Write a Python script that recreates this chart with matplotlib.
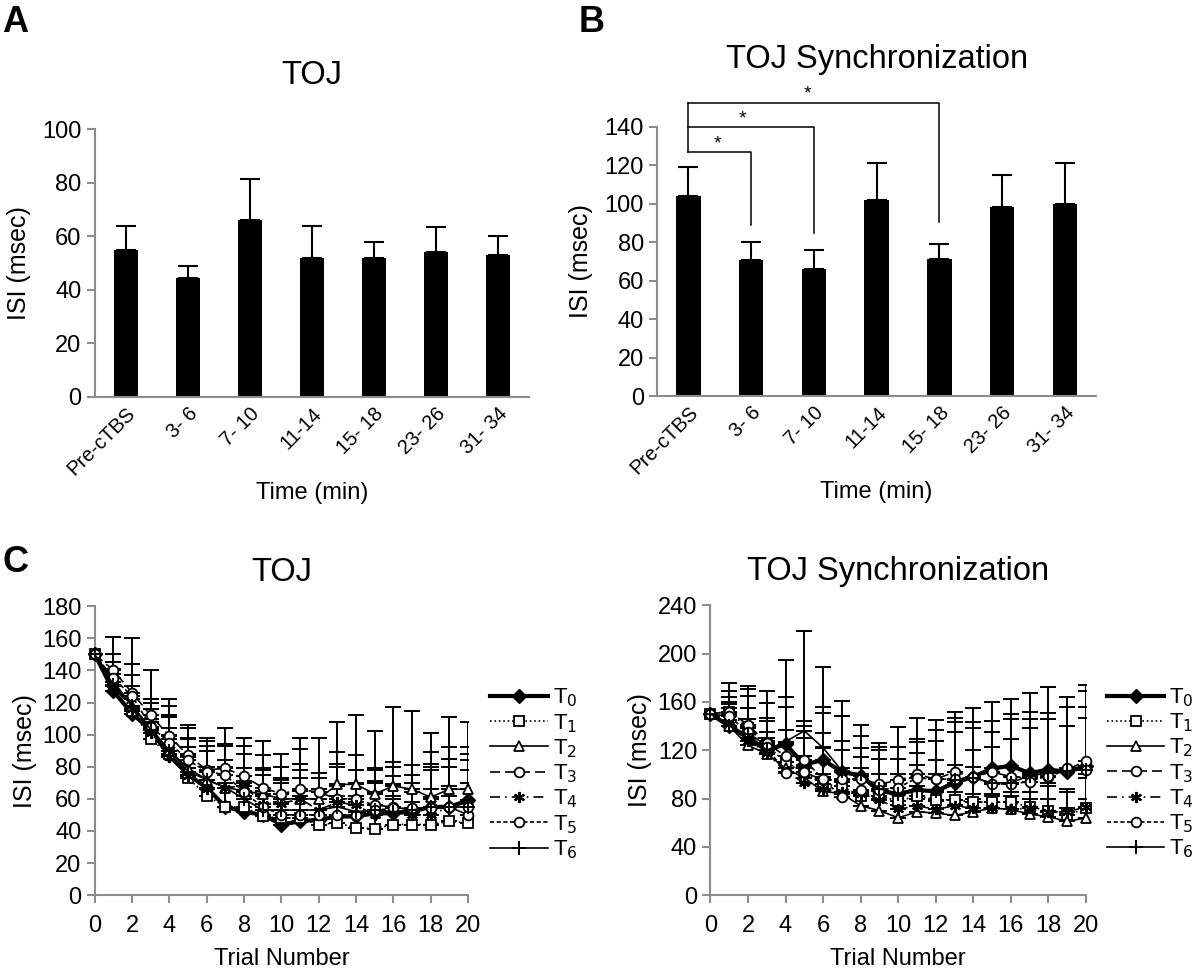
import numpy as np
import matplotlib
matplotlib.use("Agg")
import matplotlib.pyplot as plt

plt.rcParams['font.family'] = ['Liberation Sans', 'DejaVu Sans']

# ---- data: panels A and B (bar charts) ----
time_labels = ['Pre-cTBS', '3- 6', '7- 10', '11-14', '15- 18', '23- 26', '31- 34']

toj_mean = [55, 44.5, 66, 52, 52, 54, 53]
toj_upper = [64, 49, 81.5, 64, 58, 63.5, 60]

sync_mean = [104, 71, 66, 102, 71.5, 98.5, 100]
sync_upper = [119, 80, 76, 121.5, 79, 115, 121]

# significance brackets: (from, to, bracket height, drop-to)
sig_pairs = [(0, 1, 126.8, 89), (0, 2, 139.8, 85), (0, 4, 152.3, 90.7)]
sig_star_x = [0.46, 0.87, 1.9]
sig_star_y = [131, 144, 157]

# ---- data: panel C (learning curves) ----
trials = np.arange(21)
series_names = ['T$_0$', 'T$_1$', 'T$_2$', 'T$_3$', 'T$_4$', 'T$_5$', 'T$_6$']

toj_T0 = [150, 127, 113, 103, 87, 75, 67, 55, 52, 50, 44, 46, 47, 49, 49, 51, 51, 52, 55, 55, 59]
toj_T1 = [150, 133, 115, 97, 88, 73, 62, 55, 55, 49, 48, 48, 44, 45, 42, 41.5, 44, 44, 44, 46, 45]
toj_T2 = [150, 133, 118, 104, 90, 79, 72, 67, 65, 63, 60, 60, 60, 69, 69, 63, 68, 66, 61, 66, 66]
toj_T3 = [150, 140, 126, 112, 99, 87, 78, 79, 74, 67, 63, 66, 64, 60, 60, 56, 55, 53, 55, 55, 50]
toj_T4 = [150, 130, 116, 101, 86, 74, 66, 67, 68, 57, 57, 60, 53, 58, 56, 50, 52, 50, 50, 55, 58]
toj_T5 = [150, 135, 124, 105, 95, 84, 77, 75, 64, 55, 50, 50, 50, 50, 50, 53, 54, 54, 54, 55, 55]
toj_T6 = [150, 131, 118, 103, 90, 77, 72, 67, 60, 53, 53, 53, 53, 55, 52, 53, 52, 53, 55, 55, 55]

toj_T0_up = [150, 138, 126, 112, 97, 86, 78, 70, 62, 62, 58, 62, 60, 62, 62, 64, 62, 64, 66, 68, 70]
toj_T1_up = [150, 140, 122, 108, 100, 88, 80, 80, 70, 65, 60, 65, 60, 60, 58, 56, 60, 58, 60, 62, 58]
toj_T2_up = [150, 150, 144, 122, 118, 104, 96, 94, 93, 87, 80, 91, 76, 89, 87, 79, 83, 81, 89, 92, 92]
toj_T3_up = [150, 161, 160, 140, 122, 106, 98, 104, 98, 96, 88, 98, 98, 108, 112, 102, 117, 115, 101, 111, 108]
toj_T4_up = [150, 140, 126, 110, 104, 92, 90, 84, 71, 75, 70, 73, 66, 68, 70, 70, 69, 70, 80, 80, 78]
toj_T5_up = [150, 145, 137, 116, 111, 97, 93, 93, 79, 79, 73, 82, 73, 82, 78, 71, 74, 75, 82, 85, 84]
toj_T6_up = [150, 141, 130, 120, 112, 98, 98, 93, 88, 78, 72, 78, 73, 80, 78, 78, 80, 81, 78, 85, 88]

syn_T0 = [150, 140, 130, 120, 125, 108, 112, 102, 99, 86, 84, 87, 86, 93, 98, 105, 107, 101, 104, 102, 107]
syn_T1 = [150, 152, 138, 124, 110, 102, 92, 90, 82, 82, 78, 82, 79, 79, 77, 77, 77, 73, 70, 66, 72]
syn_T2 = [150, 140, 124, 117, 105, 97, 86, 84, 74, 70, 64, 69, 68, 66, 69, 72, 71, 67, 65, 61, 64]
syn_T3 = [150, 152, 141, 126, 115, 102, 95, 96, 96, 92, 95, 100, 96, 102, 98, 102, 98, 97, 98, 104, 111]
syn_T4 = [150, 145, 128, 118, 102, 93, 88, 85, 84, 79, 71, 74, 71, 74, 72, 72, 71, 72, 69, 69, 73]
syn_T5 = [150, 148, 135, 123, 101, 112, 96, 81, 87, 87, 89, 97, 96, 96, 98, 92, 92, 94, 99, 105, 104]
syn_T6 = [150, 140, 133, 120, 127, 136, 122, 103, 100, 88, 84, 86, 86, 95, 97, 93, 93, 99, 101, 103, 104]

syn_T0_up = [150, 164, 165, 147, 156, 140, 151, 128, 122, 120, 113, 127, 128, 143, 138, 135, 146, 146, 146, 140, 156]
syn_T1_up = [150, 160, 146, 135, 125, 115, 123, 105, 105, 100, 95, 108, 100, 108, 106, 105, 106, 100, 93, 88, 100]
syn_T2_up = [150, 150, 133, 128, 115, 107, 98, 94, 85, 80, 75, 80, 78, 75, 80, 82, 82, 80, 80, 72, 80]
syn_T3_up = [150, 169, 171, 159, 164, 144, 156, 148, 132, 123, 123, 129, 137, 147, 143, 144, 150, 152, 151, 156, 169]
syn_T4_up = [150, 155, 140, 130, 115, 105, 100, 95, 95, 90, 85, 90, 85, 85, 84, 84, 85, 85, 90, 85, 97]
syn_T5_up = [150, 158, 155, 144, 137, 130, 134, 120, 114, 113, 100, 118, 112, 135, 120, 123, 129, 138, 146, 140, 147]
syn_T6_up = [150, 176, 173, 169, 195, 219, 189, 161, 141, 126, 139, 147, 145, 152, 155, 160, 162, 167, 172, 164, 174]

# line styles per series
styles = [
    dict(ls='-', lw=3.0, marker='D', ms=7, mfc='black', mec='black'),
    dict(ls=':', lw=1.2, marker='s', ms=7, mfc='white', mec='black', mew=1.3),
    dict(ls='-', lw=1.2, marker='^', ms=7, mfc='white', mec='black', mew=1.3),
    dict(ls=(0, (6, 3)), lw=1.2, marker='o', ms=7, mfc='white', mec='black', mew=1.3),
    dict(ls=(0, (6, 3, 1, 3)), lw=1.2, marker=(6, 2, 0), ms=8, mfc='black', mec='black', mew=1.6),
    dict(ls=(0, (2.5, 1.5)), lw=1.2, marker='o', ms=7, mfc='white', mec='black', mew=1.3),
    dict(ls='-', lw=1.2, marker='+', ms=10, mfc='black', mec='black', mew=1.4),
]

GRAY = '#8c8c8c'
TICK_FS = 17
LABEL_FS = 17


def style_axes(ax):
    for s in ['top', 'right']:
        ax.spines[s].set_visible(False)
    for s in ['left', 'bottom']:
        ax.spines[s].set_color(GRAY)
        ax.spines[s].set_linewidth(1.5)
    ax.tick_params(axis='both', colors=GRAY, labelcolor='black', labelsize=TICK_FS,
                   width=1.5, length=6, direction='out')


def bar_panel(ax, means, uppers, ymax, step, title, title_y):
    x = np.arange(len(means))
    ax.bar(x, means, width=0.39, color='black', zorder=2)
    err = np.array(uppers) - np.array(means)
    ax.errorbar(x, means, yerr=[np.zeros_like(err), err], fmt='none',
                ecolor='black', elinewidth=1.5, capsize=7, capthick=1.5, zorder=1)
    ax.set_xlim(-0.5, len(means) - 0.5)
    ax.set_ylim(0, ymax)
    ax.set_yticks(np.arange(0, ymax + 1, step))
    style_axes(ax)
    ax.set_xticks(x)
    ax.set_xticklabels(time_labels, rotation=45, ha='right', rotation_mode='anchor',
                       fontsize=14.5)
    ax.tick_params(axis='x', length=0, pad=5)
    ax.set_xlabel('Time (min)', fontsize=LABEL_FS, labelpad=2)
    ax.set_ylabel('ISI (msec)', fontsize=18, labelpad=8)
    ax.set_title(title, fontsize=23.5, y=title_y)


def line_panel(ax, means, uppers, ymax, step, title, leg_x):
    for m, u in zip(means, uppers):
        err = np.array(u) - np.array(m)
        ax.errorbar(trials, m, yerr=[np.zeros_like(err), err], fmt='none',
                    ecolor='black', elinewidth=1.4, capsize=6, capthick=1.4, zorder=2)
    handles = []
    for m, st, name in zip(means, styles, series_names):
        h, = ax.plot(trials, m, color='black', label=name, zorder=3, clip_on=False, **st)
        handles.append(h)
    ax.set_xlim(0, 20)
    ax.set_ylim(0, ymax)
    ax.set_xticks(np.arange(0, 21, 2))
    ax.set_yticks(np.arange(0, ymax + 1, step))
    style_axes(ax)
    ax.tick_params(axis='x', pad=8)
    ax.set_xlabel('Trial Number', fontsize=LABEL_FS, labelpad=8)
    ax.set_ylabel('ISI (msec)', fontsize=18, labelpad=4)
    ax.set_title(title, fontsize=23.5, pad=18)
    ax.legend(handles=handles, loc='center left', bbox_to_anchor=(leg_x, 0.42),
              frameon=False, fontsize=16, handlelength=2.6, labelspacing=0.12,
              handletextpad=0.2, borderaxespad=0, borderpad=0)


fig = plt.figure(figsize=(12, 9.73), dpi=100)

axA = fig.add_axes([0.079, 0.592, 0.362, 0.275])
bar_panel(axA, toj_mean, toj_upper, 100, 20, 'TOJ', 1.14)

axB = fig.add_axes([0.5475, 0.593, 0.366, 0.2765])
bar_panel(axB, sync_mean, sync_upper, 140, 20, 'TOJ Synchronization', 1.19)
for (a, b, h, low), sx, sy in zip(sig_pairs, sig_star_x, sig_star_y):
    axB.plot([a, b, b], [h, h, low], color='black', lw=1.1, clip_on=False)
    axB.text(sx, sy, '*', ha='center', va='center', fontsize=14)
# shared left vertical of the brackets
axB.plot([0, 0], [sig_pairs[0][2], sig_pairs[-1][2]], color='black', lw=1.1, clip_on=False)

axC1 = fig.add_axes([0.079, 0.080, 0.311, 0.297])
line_panel(axC1, [toj_T0, toj_T1, toj_T2, toj_T3, toj_T4, toj_T5, toj_T6],
           [toj_T0_up, toj_T1_up, toj_T2_up, toj_T3_up, toj_T4_up, toj_T5_up, toj_T6_up],
           180, 20, 'TOJ', 1.06)

axC2 = fig.add_axes([0.592, 0.080, 0.313, 0.298])
line_panel(axC2, [syn_T0, syn_T1, syn_T2, syn_T3, syn_T4, syn_T5, syn_T6],
           [syn_T0_up, syn_T1_up, syn_T2_up, syn_T3_up, syn_T4_up, syn_T5_up, syn_T6_up],
           240, 40, 'TOJ Synchronization', 1.055)

for lab, (fx, fy) in zip(['A', 'B', 'C'], [(0.002, 0.995), (0.482, 0.995), (0.002, 0.44)]):
    fig.text(fx, fy, lab, fontsize=26, fontweight='bold', ha='left', va='top')

fig.savefig('out.png', dpi=100)
